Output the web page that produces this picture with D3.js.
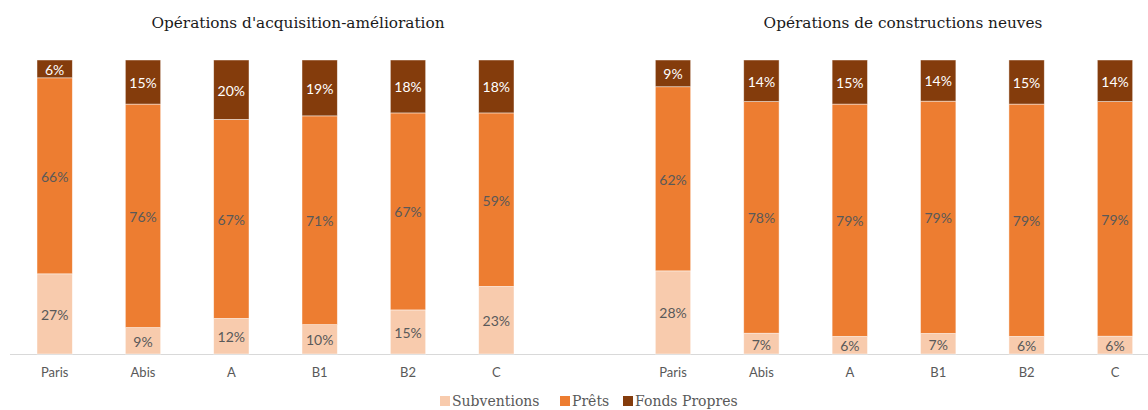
<!DOCTYPE html>
<html>
<head>
<meta charset="utf-8">
<script src="https://cdn.jsdelivr.net/npm/d3@7"></script>
<style>
  html, body { margin: 0; padding: 0; background: #fff; }
  svg { display: block; }
</style>
</head>
<body>
<svg id="chart" width="1148" height="410"></svg>
<script>
// Financement des opérations par zone (en %)
const categories = ["Paris", "Abis", "A", "B1", "B2", "C"];
const seriesNames = ["Subventions", "Prêts", "Fonds Propres"];
const colors = ["#F8CBAD", "#ED7D31", "#843C0C"];
const labelColors = ["#595959", "#595959", "#ffffff"];

const titleAcq = "Opérations d'acquisition-amélioration";
const acqSubventions = [27, 9, 12, 10, 15, 23];
const acqPrets = [66, 76, 67, 71, 67, 59];
const acqFonds = [6, 15, 20, 19, 18, 18];

const titleNeuf = "Opérations de constructions neuves";
const neufSubventions = [28, 7, 6, 7, 6, 6];
const neufPrets = [62, 78, 79, 79, 79, 79];
const neufFonds = [9, 14, 15, 14, 15, 14];

const svg = d3.select("#chart");
const plotTop = 60, plotBottom = 354;

const y = d3.scaleLinear().domain([0, 1]).range([plotBottom, plotTop]);

// baseline shared by both panels
svg.append("line")
  .attr("x1", 10).attr("x2", 1148)
  .attr("y1", plotBottom + 0.5).attr("y2", plotBottom + 0.5)
  .attr("stroke", "#D9D9D9").attr("stroke-width", 1);

function panel(title, sub, prets, fonds, x0, x1, titleX) {
  const rows = categories.map((c, i) => ({ cat: c, s0: sub[i], s1: prets[i], s2: fonds[i] }));
  const x = d3.scaleBand().domain(categories).range([x0, x1])
    .paddingInner(0.6).paddingOuter(0.3);

  const stack = d3.stack().keys(["s0", "s1", "s2"]).offset(d3.stackOffsetExpand);
  const layers = stack(rows);

  const g = svg.append("g");
  layers.forEach((layer, li) => {
    const lg = g.append("g");
    lg.selectAll("rect").data(layer).join("rect")
      .attr("x", d => x(d.data.cat))
      .attr("width", x.bandwidth())
      .attr("y", d => y(d[1]))
      .attr("height", d => y(d[0]) - y(d[1]))
      .attr("fill", colors[li])
      .attr("stroke", "#ffffff").attr("stroke-opacity", 0.6).attr("stroke-width", 0.75);
    lg.selectAll("text").data(layer).join("text")
      .attr("x", d => x(d.data.cat) + x.bandwidth() / 2)
      .attr("y", d => (y(d[0]) + y(d[1])) / 2 + 1)
      .attr("dy", "0.35em")
      .attr("text-anchor", "middle")
      .attr("font-family", "Lato, 'Open Sans', sans-serif")
      .attr("font-size", 14)
      .attr("fill", labelColors[li])
      .text(d => d.data[layer.key] + "%");
  });

  const axis = d3.axisBottom(x).tickSize(0).tickPadding(14);
  const ag = svg.append("g").attr("transform", `translate(0,${plotBottom})`).call(axis);
  ag.select(".domain").remove();
  ag.selectAll("text")
    .attr("font-family", "Lato, 'Open Sans', sans-serif")
    .attr("font-size", 13)
    .attr("fill", "#595959");

  svg.append("text")
    .attr("x", titleX).attr("y", 28)
    .attr("text-anchor", "middle")
    .attr("font-family", "'DejaVu Serif', serif")
    .attr("font-size", 15.3)
    .attr("fill", "#1a1a1a")
    .text(title);
}

panel(titleAcq, acqSubventions, acqPrets, acqFonds, 10.5, 540.5, 298);
panel(titleNeuf, neufSubventions, neufPrets, neufFonds, 628.8, 1159.2, 903);

// legend
const legend = svg.append("g");
const legendItems = [
  { name: seriesNames[0], x: 440 },
  { name: seriesNames[1], x: 560 },
  { name: seriesNames[2], x: 623 }
];
legendItems.forEach((it, i) => {
  legend.append("rect")
    .attr("x", it.x).attr("y", 396).attr("width", 10).attr("height", 10)
    .attr("fill", colors[i]);
  legend.append("text")
    .attr("x", it.x + 12).attr("y", 406)
    .attr("font-family", "'DejaVu Serif', serif")
    .attr("font-size", 14)
    .attr("fill", "#595959")
    .text(it.name);
});
</script>
</body>
</html>
